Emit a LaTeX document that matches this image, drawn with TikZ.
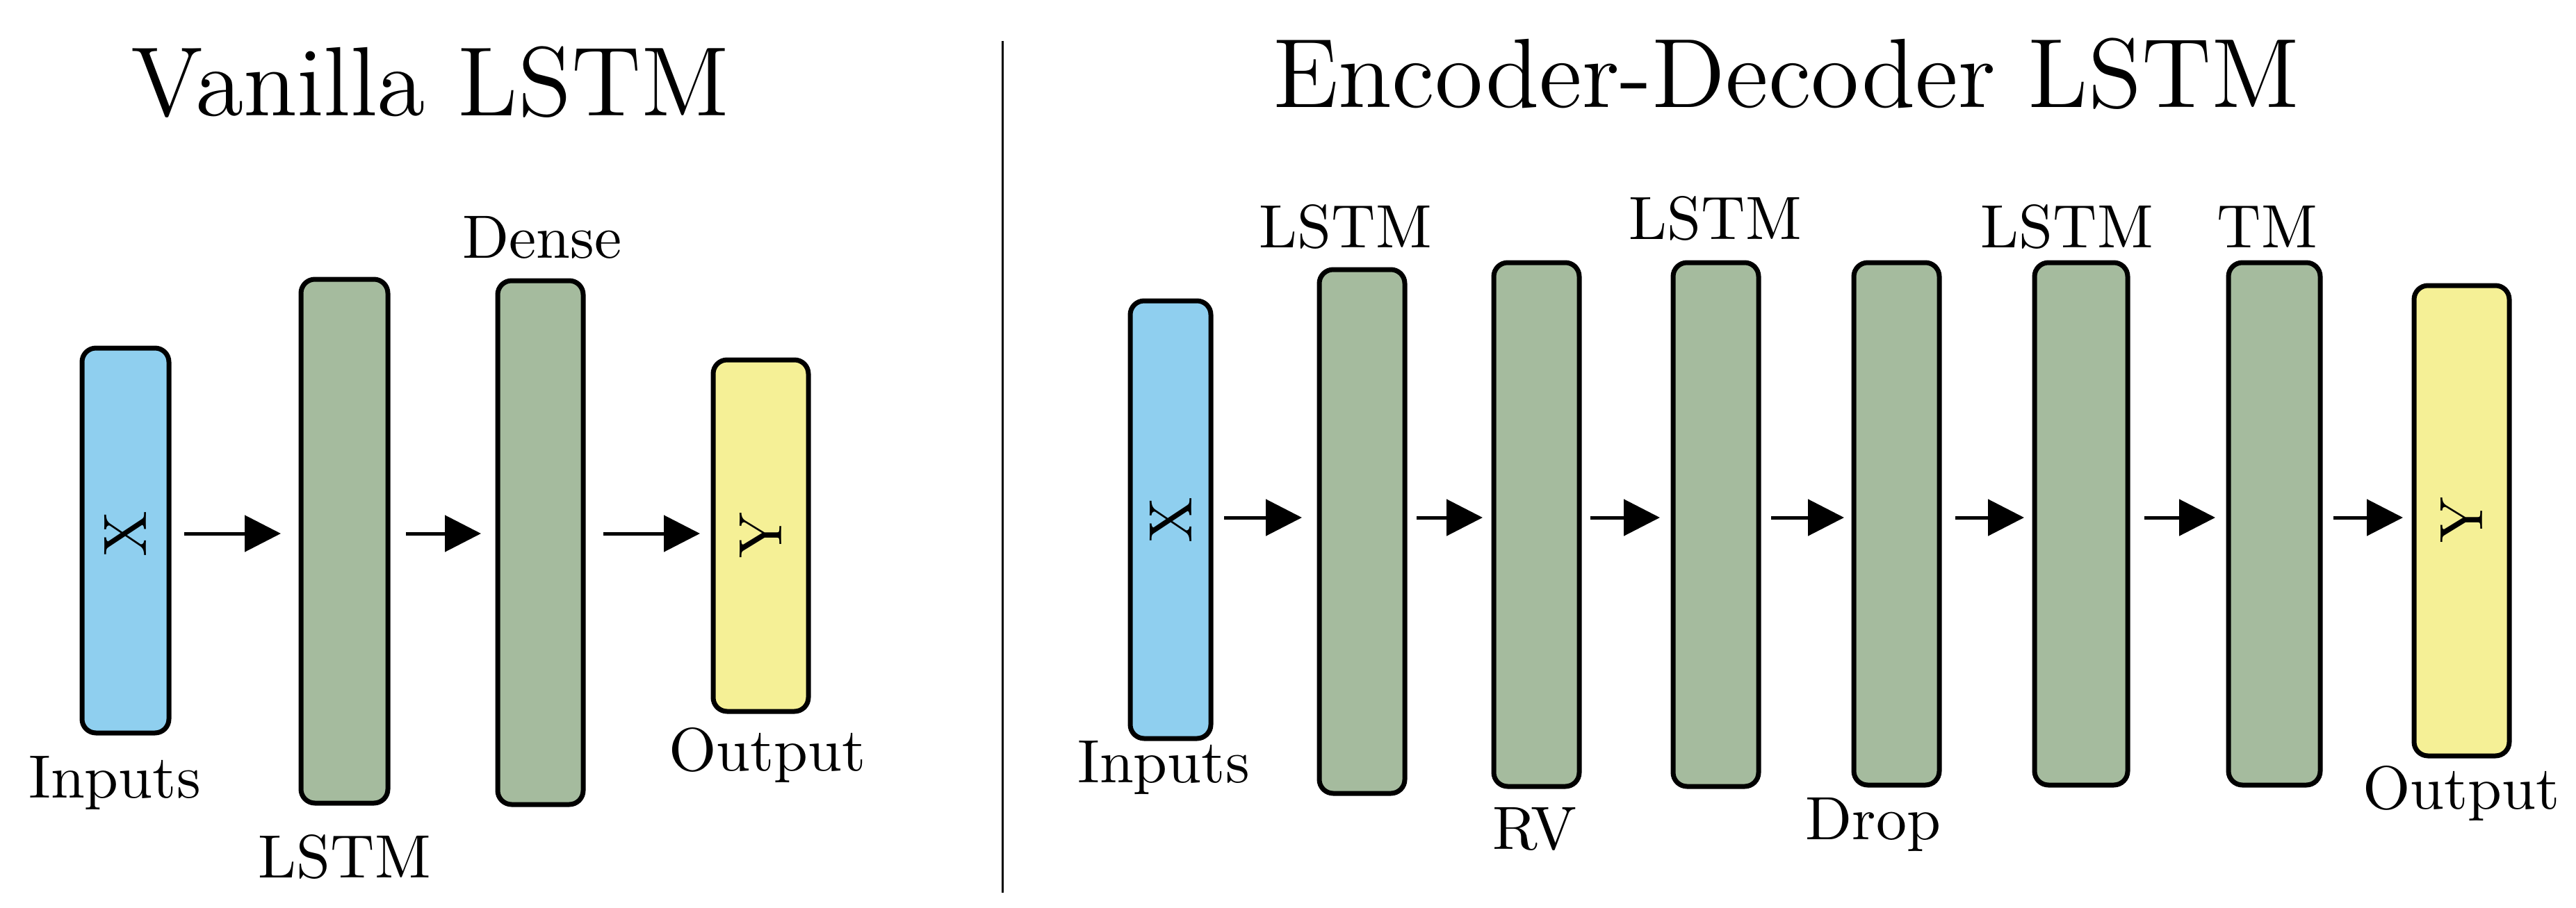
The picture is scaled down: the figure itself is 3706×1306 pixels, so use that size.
\documentclass[tikz,border=0pt]{standalone}
\usetikzlibrary{arrows.meta}
\definecolor{cblue}{HTML}{8FCFEF}
\definecolor{cgreen}{HTML}{A5BB9E}
\definecolor{cyel}{HTML}{F5F096}
\begin{document}
\begin{tikzpicture}[x=1pt,y=-1pt,
  box/.style={draw=black,line width=7pt,rounded corners=20pt},
  lab/.style={font=\fontsize{10}{12}\selectfont,inner sep=0pt,scale=8.8,transform shape},
  ttl/.style={font=\fontsize{12}{14}\selectfont,inner sep=0pt,scale=11.8,transform shape},
  arr/.style={line width=5pt,-{Triangle[length=52pt,width=52pt]}}]
\useasboundingbox (0,0) rectangle (3706,1306);
\fill[white] (0,0) rectangle (3706,1306);
% left
\node[ttl] (t1) at (619,118) {Vanilla LSTM};
\draw[box,fill=cblue] (118,501) rectangle (243,1055);
\draw[box,fill=cgreen] (433,402) rectangle (558,1156);
\draw[box,fill=cgreen] (716,404) rectangle (839,1158);
\draw[box,fill=cyel] (1026,518) rectangle (1163,1024);
\node[lab,rotate=90] (lx) at (180,768) {X};
\node[lab,rotate=90] (ly) at (1094,770) {Y};
\coordinate (a1) at (265,768); \coordinate (b1) at (404,768);
\coordinate (a2) at (584,768); \coordinate (b2) at (692,768);
\coordinate (a3) at (868,768); \coordinate (b3) at (1007,768);
\draw[arr] (a1) -- (b1); \draw[arr] (a2) -- (b2); \draw[arr] (a3) -- (b3);
\node[lab] (in1) at (165,1127) {Inputs};
\node[lab] (ls1) at (496,1233) {LSTM};
\node[lab] (de1) at (780,342) {Dense};
\node[lab] (ou1) at (1104,1087) {Output};
\coordinate (d1) at (1442,59); \coordinate (d2) at (1442,1285);
\draw[line width=3pt] (d1) -- (d2);
% right
\node[ttl] (t2) at (2570,106) {Encoder-Decoder LSTM};
\draw[box,fill=cblue] (1626,433) rectangle (1742,1063);
\draw[box,fill=cgreen] (1898,388) rectangle (2021,1142);
\draw[box,fill=cgreen] (2149,378) rectangle (2272,1132);
\draw[box,fill=cgreen] (2407,378) rectangle (2530,1132);
\draw[box,fill=cgreen] (2667,378) rectangle (2790,1130);
\draw[box,fill=cgreen] (2927,378) rectangle (3061,1130);
\draw[box,fill=cgreen] (3206,378) rectangle (3338,1130);
\draw[box,fill=cyel] (3473,411) rectangle (3610,1088);
\node[lab,rotate=90] (rx) at (1684,748) {X};
\node[lab,rotate=90] (ry) at (3541,748) {Y};
\foreach \a/\b [count=\i] in {1761/1873,2038/2133,2288/2388,2548/2653,2813/2912,3085/3187,3357/3457}{
  \coordinate (p\i) at (\a,745); \coordinate (q\i) at (\b,745);
  \draw[arr] (p\i) -- (q\i);}
\node[lab] (in2) at (1674,1105) {Inputs};
\node[lab] (l2a) at (1936,326) {LSTM};
\node[lab] (rv) at (2208,1193) {RV};
\node[lab] (l2b) at (2468,314) {LSTM};
\node[lab] (dr) at (2695,1187) {Drop};
\node[lab] (l2c) at (2974,326) {LSTM};
\node[lab] (tm) at (3262,326) {TM};
\node[lab] (ou2) at (3541,1142) {Output};
\end{tikzpicture}
\end{document}
